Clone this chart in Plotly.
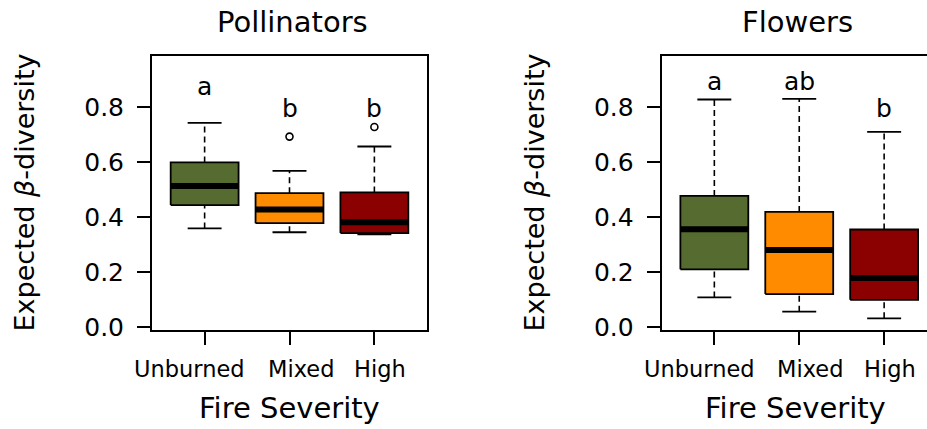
import plotly.graph_objects as go

# ---------------- data ----------------
categories = ["Unburned", "Mixed", "High"]
colors = ["#556B2F", "#FF8C00", "#8B0000"]

poll_lower_whisker = [0.358, 0.344, 0.336]
poll_q1 = [0.443, 0.377, 0.341]
poll_median = [0.512, 0.427, 0.380]
poll_q3 = [0.598, 0.486, 0.489]
poll_upper_whisker = [0.742, 0.567, 0.656]
poll_outliers = [[], [0.692], [0.727]]
poll_letters = ["a", "b", "b"]

flow_lower_whisker = [0.107, 0.055, 0.031]
flow_q1 = [0.209, 0.119, 0.098]
flow_median = [0.355, 0.279, 0.178]
flow_q3 = [0.476, 0.418, 0.354]
flow_upper_whisker = [0.827, 0.829, 0.709]
flow_outliers = [[], [], []]
flow_letters = ["a", "ab", "b"]

y_ticks = [0.0, 0.2, 0.4, 0.6, 0.8]
y_ticktext = ["0.0", "0.2", "0.4", "0.6", "0.8"]

FONT = "DejaVu Sans"
W, H = 927, 429

fig = go.Figure()

BOX_HALF = 0.4
CAP_HALF = 0.2


def add_panel(xa, ya, lw, q1, med, q3, uw, outl):
    for i, cat in enumerate(categories):
        xc = i + 1
        # whiskers (dashed)
        fig.add_trace(go.Scatter(
            x=[xc, xc, None, xc, xc], y=[q3[i], uw[i], None, lw[i], q1[i]],
            mode="lines", line=dict(color="black", width=1.6, dash="6px,4px"),
            xaxis=xa, yaxis=ya, hoverinfo="skip", showlegend=False))
        # caps
        fig.add_trace(go.Scatter(
            x=[xc - CAP_HALF, xc + CAP_HALF, None, xc - CAP_HALF, xc + CAP_HALF],
            y=[uw[i], uw[i], None, lw[i], lw[i]],
            mode="lines", line=dict(color="black", width=1.8),
            xaxis=xa, yaxis=ya, hoverinfo="skip", showlegend=False))
        # box
        fig.add_trace(go.Scatter(
            x=[xc - BOX_HALF, xc + BOX_HALF, xc + BOX_HALF, xc - BOX_HALF, xc - BOX_HALF],
            y=[q1[i], q1[i], q3[i], q3[i], q1[i]],
            mode="lines", fill="toself", fillcolor=colors[i],
            line=dict(color="black", width=1.8),
            xaxis=xa, yaxis=ya, name=cat, showlegend=False))
        # median
        fig.add_trace(go.Scatter(
            x=[xc - BOX_HALF, xc + BOX_HALF], y=[med[i], med[i]],
            mode="lines", line=dict(color="black", width=6),
            xaxis=xa, yaxis=ya, hoverinfo="skip", showlegend=False))
        # outliers
        if outl[i]:
            fig.add_trace(go.Scatter(
                x=[xc] * len(outl[i]), y=outl[i], mode="markers",
                marker=dict(symbol="circle-open", size=7, color="black",
                            line=dict(width=1.6)),
                xaxis=xa, yaxis=ya, hoverinfo="skip", showlegend=False))


add_panel("x", "y", poll_lower_whisker, poll_q1, poll_median, poll_q3,
          poll_upper_whisker, poll_outliers)
add_panel("x2", "y2", flow_lower_whisker, flow_q1, flow_median, flow_q3,
          flow_upper_whisker, flow_outliers)


def px_x(p):
    return p / W


def px_y(p):
    return 1 - p / H


y_dom = [px_y(329.5), px_y(55.5)]
y_rng = [-0.0098, 0.987]

axis_common = dict(showgrid=False, zeroline=False, showline=True,
                   linecolor="black", linewidth=2, ticks="outside",
                   ticklen=13, tickwidth=1.6, tickcolor="black",
                   automargin=False)

yfont = dict(family=FONT, size=25, color="black")

fig.update_layout(
    width=W, height=H,
    margin=dict(l=0, r=0, t=0, b=0, autoexpand=False),
    paper_bgcolor="white", plot_bgcolor="white",
    showlegend=False,
    xaxis=dict(domain=[px_x(152), px_x(427)], range=[0.38, 3.62],
               tickvals=[1, 2, 3], showticklabels=False, mirror=True,
               anchor="y", **axis_common),
    yaxis=dict(domain=y_dom, range=y_rng, tickvals=y_ticks,
               ticktext=y_ticktext, mirror=True, anchor="x", tickfont=yfont,
               ticklabelstandoff=8, **axis_common),
    xaxis2=dict(domain=[px_x(661.7), 1.0], range=[0.38, 0.38 + (W - 661.7) / 84.9],
                tickvals=[1, 2, 3], showticklabels=False, mirror=True,
                anchor="y2", **axis_common),
    yaxis2=dict(domain=y_dom, range=y_rng, tickvals=y_ticks,
                ticktext=y_ticktext, mirror=False, anchor="x2", tickfont=yfont,
                ticklabelstandoff=8, **axis_common),
)

annotations = []
# panel titles
for txt, cx in [("Pollinators", 292.5), ("Flowers", 797.5)]:
    annotations.append(dict(text=txt, x=px_x(cx), y=px_y(22), xref="paper", yref="paper",
                            xanchor="center", yanchor="middle", showarrow=False,
                            font=dict(family=FONT, size=29, color="black")))
# category labels (slightly offset from ticks, as in the original)
label_shift = [-15, 11, 6]
for xr in ["x", "x2"]:
    for i, cat in enumerate(categories):
        annotations.append(dict(text=cat, x=i + 1, xref=xr, y=px_y(368.5), yref="paper",
                                xanchor="center", yanchor="middle", xshift=label_shift[i],
                                showarrow=False,
                                font=dict(family=FONT, size=22.5, color="black")))
# x titles
for cx in [289.7, 795.5]:
    annotations.append(dict(text="Fire Severity", x=px_x(cx), y=px_y(408), xref="paper",
                            yref="paper", xanchor="center", yanchor="middle",
                            showarrow=False, font=dict(family=FONT, size=29, color="black")))
# y titles
for cx in [24, 534]:
    annotations.append(dict(text="Expected <i>β</i>-diversity", x=px_x(cx), y=px_y(192.5),
                            xref="paper", yref="paper", xanchor="center",
                            yanchor="middle", textangle=-90, showarrow=False,
                            font=dict(family=FONT, size=27, color="black")))
# significance letters
letter_y_poll = [0.875, 0.795, 0.795]
letter_y_flow = [0.893, 0.893, 0.793]
for i in range(3):
    annotations.append(dict(text=poll_letters[i], x=i + 1, y=letter_y_poll[i], xref="x",
                            yref="y", showarrow=False, yanchor="middle",
                            font=dict(family=FONT, size=25, color="black")))
    annotations.append(dict(text=flow_letters[i], x=i + 1, y=letter_y_flow[i], xref="x2",
                            yref="y2", showarrow=False, yanchor="middle",
                            font=dict(family=FONT, size=25, color="black")))
fig.update_layout(annotations=annotations)

fig.write_html("out.html")
